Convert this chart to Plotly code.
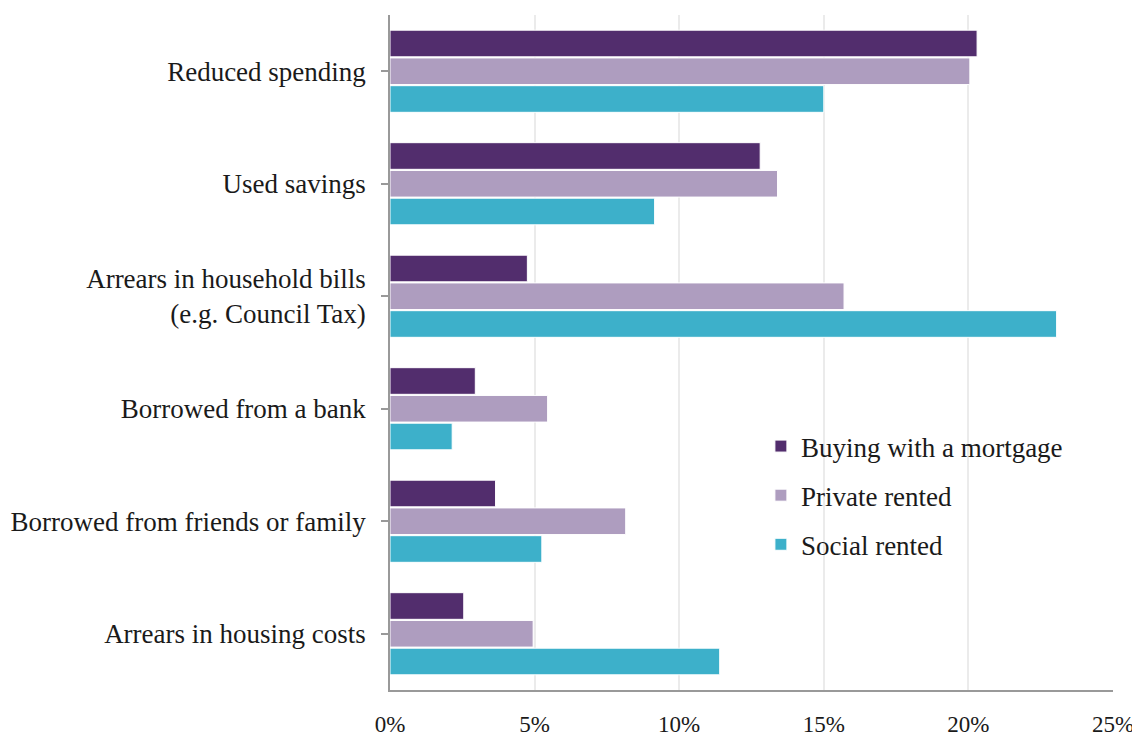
import plotly.graph_objects as go

categories = [
    "Reduced spending",
    "Used savings",
    "Arrears in household bills<br>(e.g. Council Tax)",
    "Borrowed from a bank",
    "Borrowed from friends or family",
    "Arrears in housing costs",
]
mortgage = [20.3, 12.8, 4.75, 2.95, 3.65, 2.55]
private_rented = [20.05, 13.4, 15.7, 5.45, 8.15, 4.95]
social_rented = [15.0, 9.15, 23.05, 2.15, 5.25, 11.4]
tick_vals = [0, 5, 10, 15, 20, 25]
tick_text = ["0%", "5%", "10%", "15%", "20%", "25%"]

series = [
    ("Buying with a mortgage", mortgage, "#522D6D"),
    ("Private rented", private_rented, "#AE9DBF"),
    ("Social rented", social_rented, "#3DB0CA"),
]

fig = go.Figure()
for name, vals, colour in series:
    fig.add_trace(go.Bar(
        y=categories, x=vals, name=name, orientation="h",
        marker=dict(color=colour, line=dict(color="white", width=1)),
        legendgroup=name,
    ))

# the page puts the figure 8px in from the top-left corner
font = "Liberation Serif"
fig.update_layout(
    width=1132, height=730,
    margin=dict(l=382, r=27, t=7, b=48),
    paper_bgcolor="white", plot_bgcolor="white",
    font=dict(family=font, size=27, color="#1a1a1a"),
    barmode="group", bargap=0.26, bargroupgap=0.04,
    legend=dict(x=0.513, y=0.397, xanchor="left", yanchor="top",
                font=dict(size=27), tracegroupgap=11,
                bgcolor="rgba(0,0,0,0)"),
)
fig.update_xaxes(
    range=[0, 25], tickvals=tick_vals, ticktext=tick_text,
    showgrid=True, gridcolor="#ebebeb", gridwidth=1.5,
    showline=True, linecolor="#999999", linewidth=1.5,
    zeroline=False, ticks="", ticklabelstandoff=13,
    tickfont=dict(size=23), automargin=False,
)
fig.update_yaxes(
    autorange="reversed", showline=True, linecolor="#999999", linewidth=1.5,
    ticks="outside", ticklen=7, tickcolor="#999999", tickwidth=1.5,
    showgrid=False, ticklabelstandoff=10, automargin=False,
)

fig.write_html("out.html")
